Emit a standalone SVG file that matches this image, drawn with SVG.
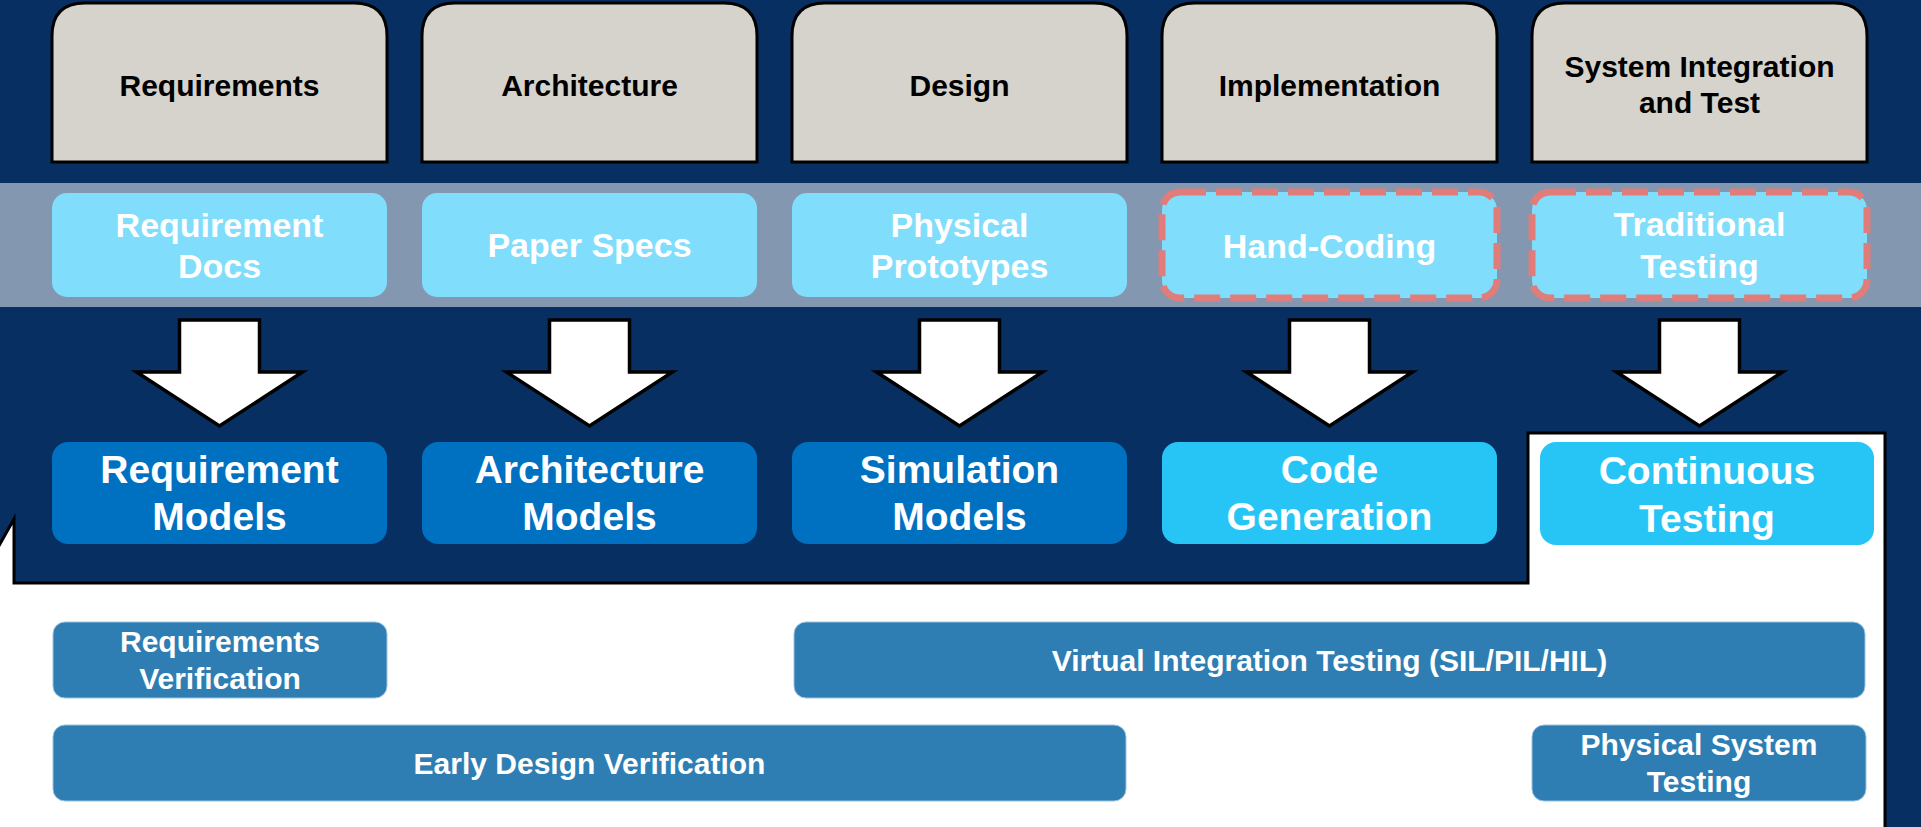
<svg xmlns="http://www.w3.org/2000/svg" width="1921" height="827" viewBox="0 0 1921 827">
  <defs>
    <style>
      .phase { fill: #d6d2cc; stroke: #000; stroke-width: 3; }
      .phase-text { font-family: "Liberation Sans", Arial, sans-serif; font-weight: bold; font-size: 30px; fill: #000; text-anchor: middle; }
      .legacy { fill: #80ddfb; }
      .legacy-dash { fill: #80ddfb; stroke: #e07c7a; stroke-width: 7; stroke-dasharray: 26 10; }
      .legacy-text { font-family: "Liberation Sans", Arial, sans-serif; font-weight: bold; font-size: 34px; fill: #fff; text-anchor: middle; }
      .model { fill: #0070c0; }
      .model-bright { fill: #27c5f6; }
      .model-text { font-family: "Liberation Sans", Arial, sans-serif; font-weight: bold; font-size: 39px; fill: #fff; text-anchor: middle; }
      .verif { fill: #2e7eb3; stroke: #9cc2e0; stroke-width: 1; }
      .verif-text { font-family: "Liberation Sans", Arial, sans-serif; font-weight: bold; font-size: 30px; fill: #fff; text-anchor: middle; }
      .flow { fill: #fff; stroke: #000; stroke-width: 3.5; stroke-linejoin: miter; }
    </style>
  </defs>

  <!-- navy backdrop -->
  <rect x="0" y="0" width="1921" height="827" fill="#082f61"/>
  <!-- grey-blue band behind the legacy practices -->
  <rect x="0" y="183" width="1921" height="124" fill="#8497b0"/>
  <!-- white panel holding the verification bars -->
  <polygon points="-4,551 14,519 14,583 1528,583 1528,433 1885,433 1885,832 -4,832" fill="#fff" stroke="#000" stroke-width="3"/>

  <!-- development phases -->
  <g id="phase-requirements">
    <path class="phase" d="M52,162 V36 Q52,3 85,3 H354 Q387,3 387,36 V162 Z"/>
    <text class="phase-text" x="219.5" y="96">Requirements</text>
  </g>
  <g id="phase-architecture">
    <path class="phase" d="M422,162 V36 Q422,3 455,3 H724 Q757,3 757,36 V162 Z"/>
    <text class="phase-text" x="589.5" y="96">Architecture</text>
  </g>
  <g id="phase-design">
    <path class="phase" d="M792,162 V36 Q792,3 825,3 H1094 Q1127,3 1127,36 V162 Z"/>
    <text class="phase-text" x="959.5" y="96">Design</text>
  </g>
  <g id="phase-implementation">
    <path class="phase" d="M1162,162 V36 Q1162,3 1195,3 H1464 Q1497,3 1497,36 V162 Z"/>
    <text class="phase-text" x="1329.5" y="96">Implementation</text>
  </g>
  <g id="phase-integration">
    <path class="phase" d="M1532,162 V36 Q1532,3 1565,3 H1834 Q1867,3 1867,36 V162 Z"/>
    <text class="phase-text" x="1699.5" y="77">System Integration</text>
    <text class="phase-text" x="1699.5" y="113">and Test</text>
  </g>

  <!-- legacy practices -->
  <g id="legacy-requirement-docs">
    <rect class="legacy" x="52" y="193" width="335" height="104" rx="15"/>
    <text class="legacy-text" x="219.5" y="237">Requirement</text>
    <text class="legacy-text" x="219.5" y="278">Docs</text>
  </g>
  <g id="legacy-paper-specs">
    <rect class="legacy" x="422" y="193" width="335" height="104" rx="15"/>
    <text class="legacy-text" x="589.5" y="257">Paper Specs</text>
  </g>
  <g id="legacy-physical-prototypes">
    <rect class="legacy" x="792" y="193" width="335" height="104" rx="15"/>
    <text class="legacy-text" x="959.5" y="237">Physical</text>
    <text class="legacy-text" x="959.5" y="278">Prototypes</text>
  </g>
  <g id="legacy-hand-coding">
    <rect class="legacy-dash" x="1162" y="192" width="335" height="106" rx="18"/>
    <text class="legacy-text" x="1329.5" y="258">Hand-Coding</text>
  </g>
  <g id="legacy-traditional-testing">
    <rect class="legacy-dash" x="1532" y="192" width="335" height="106" rx="18"/>
    <text class="legacy-text" x="1699.5" y="236">Traditional</text>
    <text class="legacy-text" x="1699.5" y="278">Testing</text>
  </g>

  <!-- transition arrows -->
  <g id="connectors">
    <path class="flow" d="M179.5,320 H259.5 V372 H302.5 L219.5,426 L136.5,372 H179.5 Z"/>
    <path class="flow" d="M549.5,320 H629.5 V372 H672.5 L589.5,426 L506.5,372 H549.5 Z"/>
    <path class="flow" d="M919.5,320 H999.5 V372 H1042.5 L959.5,426 L876.5,372 H919.5 Z"/>
    <path class="flow" d="M1289.5,320 H1369.5 V372 H1412.5 L1329.5,426 L1246.5,372 H1289.5 Z"/>
    <path class="flow" d="M1659.5,320 H1739.5 V372 H1782.5 L1699.5,426 L1616.5,372 H1659.5 Z"/>
  </g>

  <!-- model-based practices -->
  <g id="model-requirement">
    <rect class="model" x="52" y="442" width="335" height="102" rx="16"/>
    <text class="model-text" x="219.5" y="483">Requirement</text>
    <text class="model-text" x="219.5" y="530">Models</text>
  </g>
  <g id="model-architecture">
    <rect class="model" x="422" y="442" width="335" height="102" rx="16"/>
    <text class="model-text" x="589.5" y="483">Architecture</text>
    <text class="model-text" x="589.5" y="530">Models</text>
  </g>
  <g id="model-simulation">
    <rect class="model" x="792" y="442" width="335" height="102" rx="16"/>
    <text class="model-text" x="959.5" y="483">Simulation</text>
    <text class="model-text" x="959.5" y="530">Models</text>
  </g>
  <g id="model-code-generation">
    <rect class="model-bright" x="1162" y="442" width="335" height="102" rx="16"/>
    <text class="model-text" x="1329.5" y="483">Code</text>
    <text class="model-text" x="1329.5" y="530">Generation</text>
  </g>
  <g id="model-continuous-testing">
    <rect class="model-bright" x="1540" y="442" width="334" height="103" rx="16"/>
    <text class="model-text" x="1707" y="484">Continuous</text>
    <text class="model-text" x="1707" y="532">Testing</text>
  </g>

  <!-- verification activities -->
  <g id="verif-requirements">
    <rect class="verif" x="53" y="622" width="334" height="76" rx="12"/>
    <text class="verif-text" x="220" y="652">Requirements</text>
    <text class="verif-text" x="220" y="689">Verification</text>
  </g>
  <g id="verif-virtual-integration">
    <rect class="verif" x="794" y="622" width="1071" height="76" rx="12"/>
    <text class="verif-text" x="1329.5" y="671">Virtual Integration Testing (SIL/PIL/HIL)</text>
  </g>
  <g id="verif-early-design">
    <rect class="verif" x="53" y="725" width="1073" height="76" rx="12"/>
    <text class="verif-text" x="589.5" y="774">Early Design Verification</text>
  </g>
  <g id="verif-physical-system">
    <rect class="verif" x="1532" y="725" width="334" height="76" rx="12"/>
    <text class="verif-text" x="1699" y="755">Physical System</text>
    <text class="verif-text" x="1699" y="792">Testing</text>
  </g>
</svg>
